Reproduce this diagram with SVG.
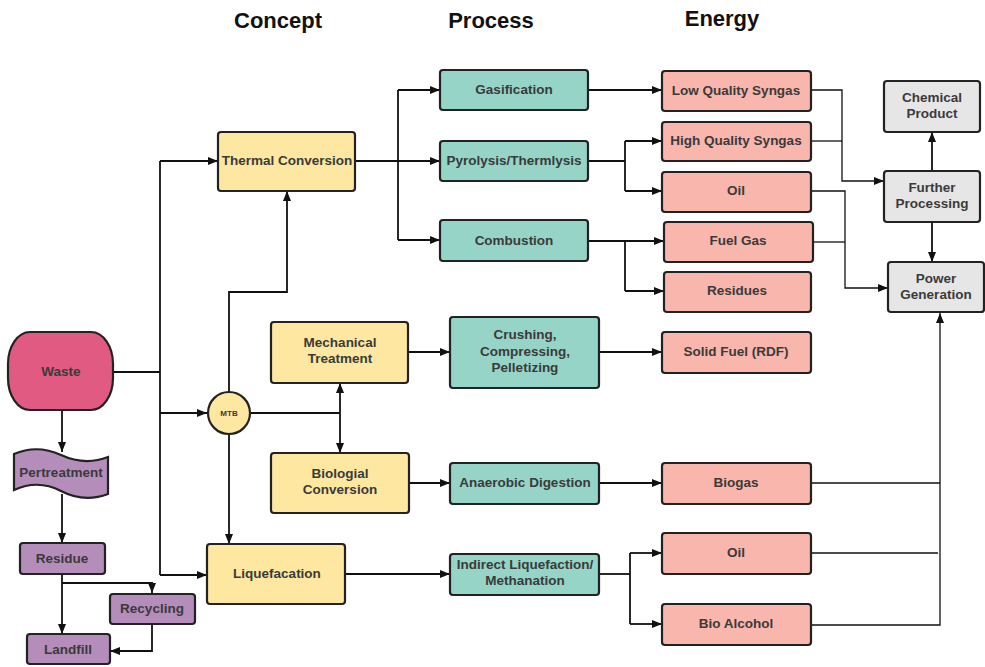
<svg xmlns="http://www.w3.org/2000/svg" width="985" height="667" viewBox="0 0 985 667">
<style>
.n{stroke:#222;stroke-width:2.2}
.y{fill:#fde7a1}.t{fill:#95d4c6}.s{fill:#f8b6ad}.g{fill:#e6e6e6}.p{fill:#b48dbb}.w{fill:#e05a82}
text{font-family:"Liberation Sans",Arial,sans-serif;font-weight:bold;font-size:13.5px;fill:#3a3a3a;text-anchor:middle}
.h{font-size:22px;fill:#111}
.c path{fill:none;stroke:#111;stroke-width:1.8}
.c .thin{stroke-width:1.3}
</style>
<defs>
<marker id="a" markerUnits="userSpaceOnUse" markerWidth="10" markerHeight="8" refX="10" refY="4" orient="auto">
<path d="M0,0 L10,4 L0,8 z" fill="#111"/>
</marker>
</defs>
<rect width="985" height="667" fill="#fff"/>
<g id="headings">
<text class="h" x="278" y="28">Concept</text>
<text class="h" x="491" y="28">Process</text>
<text class="h" x="722" y="26">Energy</text>
</g>
<g class="c" id="connectors">
<path d="M62,410 V452" marker-end="url(#a)"/>
<path d="M62,494 V543" marker-end="url(#a)"/>
<path d="M62,574 V634" marker-end="url(#a)"/>
<path d="M62,583 H152 V593" marker-end="url(#a)"/>
<path d="M152,624 V651 H110" marker-end="url(#a)"/>
<path d="M113,372 H160"/>
<path d="M160,161 V575"/>
<path d="M160,161 H218" marker-end="url(#a)"/>
<path d="M160,413 H207" marker-end="url(#a)"/>
<path d="M160,575 H207" marker-end="url(#a)"/>
<path d="M229,392 V292 H287 V191" marker-end="url(#a)"/>
<path d="M250,413 H340"/>
<path d="M340,413 V383" marker-end="url(#a)"/>
<path d="M340,413 V453" marker-end="url(#a)"/>
<path d="M229,434 V544" marker-end="url(#a)"/>
<path d="M356,161 H440" marker-end="url(#a)"/>
<path d="M398,90 V240"/>
<path d="M398,90 H440" marker-end="url(#a)"/>
<path d="M398,240 H440" marker-end="url(#a)"/>
<path d="M588,90 H662" marker-end="url(#a)"/>
<path d="M588,161 H625"/>
<path d="M625,141 V191"/>
<path d="M625,141 H662" marker-end="url(#a)"/>
<path d="M625,191 H662" marker-end="url(#a)"/>
<path d="M588,241 H625"/>
<path d="M625,241 V291"/>
<path d="M625,241 H664" marker-end="url(#a)"/>
<path d="M625,291 H664" marker-end="url(#a)"/>
<path class="thin" d="M811,90 H842 V181 H884" marker-end="url(#a)"/>
<path class="thin" d="M811,141 H842"/>
<path class="thin" d="M811,191 H845 V288 H888" marker-end="url(#a)"/>
<path class="thin" d="M813,242 H845"/>
<path d="M932,171 V132" marker-end="url(#a)"/>
<path d="M932,222 V262" marker-end="url(#a)"/>
<path class="thin" d="M811,483 H940"/>
<path class="thin" d="M811,553 H938"/>
<path class="thin" d="M811,625 H940 V313" marker-end="url(#a)"/>
<path d="M408,352 H450" marker-end="url(#a)"/>
<path d="M599,352 H662" marker-end="url(#a)"/>
<path d="M409,483 H450" marker-end="url(#a)"/>
<path d="M599,483 H662" marker-end="url(#a)"/>
<path d="M345,574 H450" marker-end="url(#a)"/>
<path d="M599,574 H630"/>
<path d="M630,553 V624"/>
<path d="M630,553 H662" marker-end="url(#a)"/>
<path d="M630,624 H662" marker-end="url(#a)"/>
</g>
<g id="waste"><rect class="n w" x="8" y="332" width="105" height="78" rx="22" ry="32"/><text x="61" y="376">Waste</text></g>
<g id="pertreatment"><path class="n p" d="M14,454 Q37,444 61,455 T108,457 L108,494 Q84,503 61,491 T14,490 Z"/><text x="61" y="477">Pertreatment</text></g>
<g id="residue"><rect class="n p" x="20" y="543" width="85" height="31" rx="3"/><text x="62" y="563">Residue</text></g>
<g id="recycling"><rect class="n p" x="110" y="594" width="85" height="30" rx="3"/><text x="152" y="613">Recycling</text></g>
<g id="landfill"><rect class="n p" x="27" y="634" width="83" height="30" rx="3"/><text x="68" y="654">Landfill</text></g>
<g id="thermal"><rect class="n y" x="218" y="132" width="137" height="59" rx="3"/><text x="287" y="165">Thermal Conversion</text></g>
<g id="mtb"><circle class="n y" cx="229" cy="413" r="21"/><text x="229" y="416" style="font-size:8px">MTB</text></g>
<g id="mechanical"><rect class="n y" x="271" y="322" width="137" height="61" rx="3"/><text x="340" y="347">Mechanical</text><text x="340" y="363">Treatment</text></g>
<g id="biological"><rect class="n y" x="271" y="453" width="138" height="60" rx="3"/><text x="340" y="478">Biologial</text><text x="340" y="494">Conversion</text></g>
<g id="liquefacation"><rect class="n y" x="207" y="544" width="138" height="60" rx="3"/><text x="277" y="578">Liquefacation</text></g>
<g id="gasification"><rect class="n t" x="440" y="70" width="148" height="40" rx="3"/><text x="514" y="94">Gasification</text></g>
<g id="pyrolysis"><rect class="n t" x="440" y="141" width="148" height="40" rx="3"/><text x="514" y="165">Pyrolysis/Thermlysis</text></g>
<g id="combustion"><rect class="n t" x="440" y="220" width="148" height="41" rx="3"/><text x="514" y="245">Combustion</text></g>
<g id="crushing"><rect class="n t" x="450" y="317" width="149" height="71" rx="3"/><text x="525" y="339">Crushing,</text><text x="525" y="356">Compressing,</text><text x="525" y="372">Pelletizing</text></g>
<g id="anaerobic"><rect class="n t" x="450" y="463" width="149" height="41" rx="3"/><text x="525" y="487">Anaerobic Digestion</text></g>
<g id="indirect"><rect class="n t" x="450" y="554" width="149" height="41" rx="3"/><text x="525" y="569">Indirect Liquefaction/</text><text x="525" y="585">Methanation</text></g>
<g id="lowsyngas"><rect class="n s" x="662" y="71" width="149" height="40" rx="3"/><text x="736" y="95">Low Quality Syngas</text></g>
<g id="highsyngas"><rect class="n s" x="662" y="122" width="149" height="39" rx="3"/><text x="736" y="145">High Quality Syngas</text></g>
<g id="oil1"><rect class="n s" x="662" y="172" width="149" height="40" rx="3"/><text x="736" y="195">Oil</text></g>
<g id="fuelgas"><rect class="n s" x="664" y="222" width="149" height="40" rx="3"/><text x="738" y="245">Fuel Gas</text></g>
<g id="residues"><rect class="n s" x="664" y="272" width="147" height="40" rx="3"/><text x="737" y="295">Residues</text></g>
<g id="solidfuel"><rect class="n s" x="662" y="332" width="149" height="41" rx="3"/><text x="736" y="356">Solid Fuel (RDF)</text></g>
<g id="biogas"><rect class="n s" x="662" y="463" width="149" height="41" rx="3"/><text x="736" y="487">Biogas</text></g>
<g id="oil2"><rect class="n s" x="662" y="533" width="149" height="41" rx="3"/><text x="736" y="557">Oil</text></g>
<g id="bioalcohol"><rect class="n s" x="662" y="604" width="149" height="41" rx="3"/><text x="736" y="628">Bio Alcohol</text></g>
<g id="chemical"><rect class="n g" x="884" y="81" width="96" height="51" rx="3"/><text x="932" y="102">Chemical</text><text x="932" y="118">Product</text></g>
<g id="further"><rect class="n g" x="884" y="171" width="96" height="51" rx="3"/><text x="932" y="192">Further</text><text x="932" y="208">Processing</text></g>
<g id="power"><rect class="n g" x="888" y="262" width="96" height="50" rx="3"/><text x="936" y="283">Power</text><text x="936" y="299">Generation</text></g>
</svg>
